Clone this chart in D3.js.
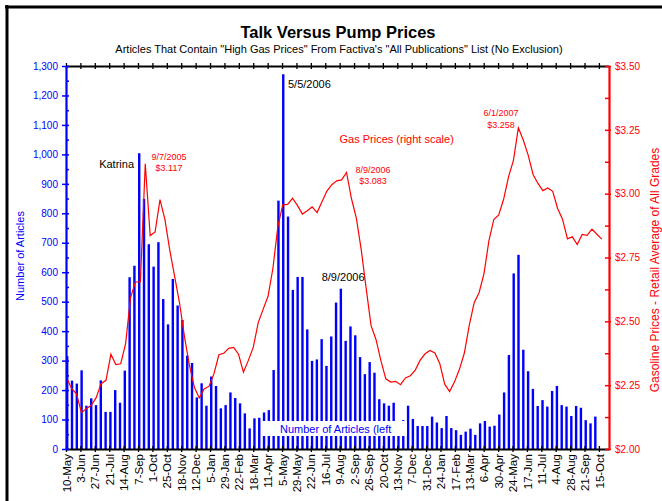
<!DOCTYPE html>
<html><head><meta charset="utf-8">
<script src="https://cdn.jsdelivr.net/npm/d3@7"></script>
<style>
body{margin:0;background:#fff}
svg{display:block}
text{font-family:"Liberation Sans",Arial,Helvetica,sans-serif}
</style>
</head><body>
<svg id="c" width="662" height="501"></svg>
<script>
// ---------------- data ----------------
const tickLabels = ["10-May","3-Jun","27-Jun","21-Jul","14-Aug","7-Sep","1-Oct","25-Oct","18-Nov","12-Dec",
  "5-Jan","29-Jan","22-Feb","18-Mar","11-Apr","5-May","29-May","22-Jun","16-Jul","9-Aug",
  "2-Sep","26-Sep","20-Oct","13-Nov","7-Dec","31-Dec","24-Jan","17-Feb","13-Mar","6-Apr",
  "30-Apr","24-May","17-Jun","11-Jul","4-Aug","28-Aug","21-Sep","15-Oct"];

// number of articles per 8-day period starting 10-May-2005
const articleCounts = [315,232,222,267,147,172,149,233,126,126,
  200,157,266,583,622,1004,849,695,619,702,
  509,423,577,487,438,317,292,175,223,147,
  246,214,138,149,192,173,155,121,70,104,
  106,124,132,268,843,1272,789,540,584,584,
  406,299,304,373,282,382,497,544,367,416,
  386,312,254,295,259,169,155,147,157,80,
  98,147,102,78,78,78,110,90,71,112,
  71,64,48,59,69,48,87,95,76,79,
  117,192,319,596,659,337,264,204,146,166,
  144,197,214,149,144,112,146,140,98,87,110];

// gasoline retail price, all grades ($/gal)
const gasPrices = [2.279,2.236,2.216,2.142,2.158,2.171,2.201,2.256,2.269,2.371,
  2.331,2.334,2.413,2.593,2.654,2.654,3.117,2.836,2.850,2.977,
  2.899,2.778,2.674,2.569,2.438,2.327,2.242,2.200,2.235,2.246,
  2.295,2.369,2.375,2.394,2.398,2.371,2.301,2.347,2.398,2.494,
  2.547,2.597,2.707,2.870,2.956,2.958,2.982,2.954,2.920,2.933,
  2.948,2.926,2.968,3.010,3.035,3.050,3.054,3.083,2.981,2.904,
  2.780,2.629,2.483,2.429,2.346,2.275,2.262,2.265,2.252,2.278,
  2.287,2.309,2.348,2.373,2.386,2.376,2.334,2.254,2.225,2.263,
  2.312,2.376,2.484,2.573,2.612,2.687,2.815,2.899,2.917,2.978,
  3.066,3.130,3.258,3.210,3.151,3.075,3.040,3.012,3.022,3.009,
  2.942,2.900,2.823,2.831,2.801,2.840,2.837,2.861,2.841,2.822];

const leftTicks = [0,100,200,300,400,500,600,700,800,900,1000,1100,1200,1300];
const rightTicks = [2.00,2.25,2.50,2.75,3.00,3.25,3.50];

// ---------------- layout ----------------
const BLUE = "#0000ff", RED = "#ff0000";
const svg = d3.select("#c");
const PL = 66, PR = 609, PT = 66, PB = 449;

const x = d3.scaleLinear().domain([0, 113.1]).range([PL, PR]);
const yL = d3.scaleLinear().domain([0, 1300]).range([PB, PT]);
const yR = d3.scaleLinear().domain([2, 3.5]).range([PB, PT]);
const xg = d3.scaleLinear().domain([0, gasPrices.length - 1]).range([x(0.15), x(111.6)]);

// frame (cropped)
svg.append("line").attr("x1",5).attr("x2",662).attr("y1",7).attr("y2",7).attr("stroke","#000").attr("stroke-width",3);
svg.append("line").attr("x1",7).attr("x2",7).attr("y1",5).attr("y2",501).attr("stroke","#000").attr("stroke-width",3);

// titles
svg.append("text").attr("x",338).attr("y",38).attr("text-anchor","middle")
  .attr("font-size",16.5).attr("font-weight","bold").text("Talk Versus Pump Prices");
svg.append("text").attr("x",339).attr("y",52.5).attr("text-anchor","middle")
  .attr("font-size",11).text("Articles That Contain \"High Gas Prices\" From Factiva's \"All Publications\" List (No Exclusion)");

// bars
svg.append("g").selectAll("rect").data(articleCounts).join("rect")
  .attr("x",(d,i)=>x(i)).attr("width",2.4)
  .attr("y",d=>yL(d)).attr("height",d=>yL(0)-yL(d))
  .attr("fill",BLUE);

// gas line
svg.append("path").datum(gasPrices)
  .attr("d", d3.line().x((d,i)=>xg(i)).y(d=>yR(d)))
  .attr("fill","none").attr("stroke",RED).attr("stroke-width",1.2);

// legend box (truncated)
svg.append("rect").attr("x",261).attr("y",421).attr("width",146).attr("height",15).attr("fill","#fff");
svg.append("text").attr("x",280).attr("y",433).attr("font-size",11).attr("fill",BLUE).text("Number of Articles (left");

// x axes (top and bottom, crossing ticks)
const xt = d3.range(0, 112, 3);
const axB = svg.append("g").attr("transform",`translate(0,${PB})`)
  .call(d3.axisBottom(x).tickValues(xt).tickFormat((d,i)=>tickLabels[i]).tickSizeInner(3).tickSizeOuter(0));
axB.select(".domain").attr("stroke","#000").attr("stroke-width",2);
axB.selectAll(".tick line").attr("stroke","#000").attr("stroke-width",1.3);
axB.selectAll(".tick text")
  .attr("transform","rotate(-90)").attr("text-anchor","end")
  .attr("x",-5).attr("y",0).attr("dy","0.36em")
  .attr("font-size",11.5).attr("fill","#000").attr("font-family",null);
svg.append("g").attr("transform",`translate(0,${PB})`)
  .call(d3.axisTop(x).tickValues(xt).tickFormat("").tickSizeInner(3).tickSizeOuter(0))
  .call(g=>{g.select(".domain").remove(); g.selectAll(".tick line").attr("stroke","#000").attr("stroke-width",1.3);});

const axT = svg.append("g").attr("transform",`translate(0,${PT})`)
  .call(d3.axisTop(x).tickValues(xt).tickFormat("").tickSizeInner(3).tickSizeOuter(0));
axT.select(".domain").attr("stroke","#000").attr("stroke-width",2);
axT.selectAll(".tick line").attr("stroke","#000").attr("stroke-width",1.3);
svg.append("g").attr("transform",`translate(0,${PT})`)
  .call(d3.axisBottom(x).tickValues(xt).tickFormat("").tickSizeInner(3).tickSizeOuter(0))
  .call(g=>{g.select(".domain").remove(); g.selectAll(".tick line").attr("stroke","#000").attr("stroke-width",1.3);});

// left axis
const axL = svg.append("g").attr("transform",`translate(${PL},0)`)
  .call(d3.axisLeft(yL).tickValues(leftTicks).tickFormat(d3.format(",")).tickSizeInner(4).tickSizeOuter(0).tickPadding(4));
axL.select(".domain").attr("stroke",BLUE).attr("stroke-width",2.2);
axL.selectAll(".tick line").attr("stroke",BLUE).attr("stroke-width",1.5);
axL.selectAll(".tick text").attr("fill",BLUE).attr("font-size",10).attr("font-family",null);
svg.append("g").attr("transform",`translate(${PL},0)`)
  .call(d3.axisRight(yL).tickValues(d3.range(0,1301,50)).tickFormat("").tickSizeInner(3).tickSizeOuter(0))
  .call(g=>{g.select(".domain").remove(); g.selectAll(".tick line").attr("stroke",BLUE).attr("stroke-width",1.5);});

// right axis
const axR = svg.append("g").attr("transform",`translate(${PR},0)`)
  .call(d3.axisRight(yR).tickValues(rightTicks).tickFormat(d3.format("$.2f")).tickSizeInner(2).tickSizeOuter(0).tickPadding(4));
axR.select(".domain").attr("stroke",RED).attr("stroke-width",2.2);
axR.selectAll(".tick line").attr("stroke",RED).attr("stroke-width",1.5);
axR.selectAll(".tick text").attr("fill",RED).attr("font-size",10).attr("font-family",null);
svg.append("g").attr("transform",`translate(${PR},0)`)
  .call(d3.axisLeft(yR).tickValues(d3.range(2,3.5001,0.125)).tickFormat("").tickSizeInner(4).tickSizeOuter(0))
  .call(g=>{g.select(".domain").remove(); g.selectAll(".tick line").attr("stroke",RED).attr("stroke-width",1.5);});

// axis titles
svg.append("text").attr("transform","translate(24,256) rotate(-90)").attr("text-anchor","middle")
  .attr("font-size",11).attr("fill",BLUE).text("Number of Articles");
svg.append("text").attr("transform","translate(659,270) rotate(-90)").attr("text-anchor","middle")
  .attr("font-size",12).attr("fill",RED).text("Gasoline Prices - Retail Average of All Grades");

// annotations
const notes = [
  {t:"Katrina", x:134, y:168, a:"end", s:11, c:"#000"},
  {t:"9/7/2005", x:169, y:159.5, a:"middle", s:9, c:RED},
  {t:"$3.117", x:169, y:171, a:"middle", s:9, c:RED},
  {t:"5/5/2006", x:288, y:88.3, a:"start", s:11, c:"#000"},
  {t:"Gas Prices (right scale)", x:339.5, y:142.5, a:"start", s:11, c:RED},
  {t:"8/9/2006", x:373, y:172.5, a:"middle", s:9, c:RED},
  {t:"$3.083", x:373, y:184, a:"middle", s:9, c:RED},
  {t:"8/9/2006", x:321.7, y:280.5, a:"start", s:11, c:"#000"},
  {t:"6/1/2007", x:501, y:116, a:"middle", s:9, c:RED},
  {t:"$3.258", x:501, y:128, a:"middle", s:9, c:RED}
];
svg.append("g").selectAll("text").data(notes).join("text")
  .attr("x",d=>d.x).attr("y",d=>d.y).attr("text-anchor",d=>d.a)
  .attr("font-size",d=>d.s).attr("fill",d=>d.c).text(d=>d.t);
</script>
</body></html>
